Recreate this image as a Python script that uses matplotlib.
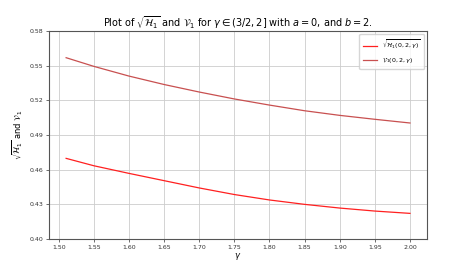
import numpy as np
import matplotlib
matplotlib.use('Agg')
import matplotlib.pyplot as plt

gamma = [1.5105, 1.55, 1.60, 1.65, 1.70, 1.75, 1.80, 1.85, 1.90, 1.95, 2.00]
sqrt_h1 = [0.4698, 0.4634, 0.4568, 0.4505, 0.4442, 0.4385, 0.4338, 0.4300, 0.4268, 0.4242, 0.4222]
v1 = [0.5569, 0.5494, 0.5410, 0.5337, 0.5272, 0.5212, 0.5159, 0.5110, 0.5070, 0.5036, 0.5004]

fig = plt.figure(figsize=(4.53, 2.65), dpi=100)
ax = fig.add_axes([0.108, 0.098, 0.835, 0.785])

ax.plot(gamma, sqrt_h1, color='#ff2020', lw=0.9, label=r'$\sqrt{\mathcal{H}_1(0,2,\gamma)}$')
ax.plot(gamma, v1, color='#c85050', lw=0.9, label=r'$\mathcal{V}_1(0,2,\gamma)$')

ax.set_ylim(0.40, 0.58)
ax.set_yticks(np.arange(0.40, 0.581, 0.03))
ax.set_xticks(np.arange(1.50, 2.001, 0.05))
ax.xaxis.set_major_formatter(matplotlib.ticker.FormatStrFormatter('%.2f'))
ax.yaxis.set_major_formatter(matplotlib.ticker.FormatStrFormatter('%.2f'))
ax.tick_params(labelsize=4.5, length=2, width=0.5, pad=2, colors='#333333')
ax.grid(True, color='#cccccc', lw=0.6)
for s in ax.spines.values():
    s.set_linewidth(0.8)
    s.set_color('#555555')

ax.set_xlabel(r'$\gamma$', fontsize=6, labelpad=1)
ax.set_ylabel(r'$\sqrt{\mathcal{H}_1}$ and $\mathcal{V}_1$', fontsize=6, labelpad=3)
ax.set_title(r'Plot of $\sqrt{\mathcal{H}_1}$ and $\mathcal{V}_1$ for $\gamma \in (3/2, 2]$ with $a=0$, and $b=2$.',
             fontsize=7, pad=3)
ax.legend(loc='upper right', fontsize=4.5, handlelength=2.2, borderpad=0.6, labelspacing=0.8)

fig.savefig('out.png', dpi=100)
